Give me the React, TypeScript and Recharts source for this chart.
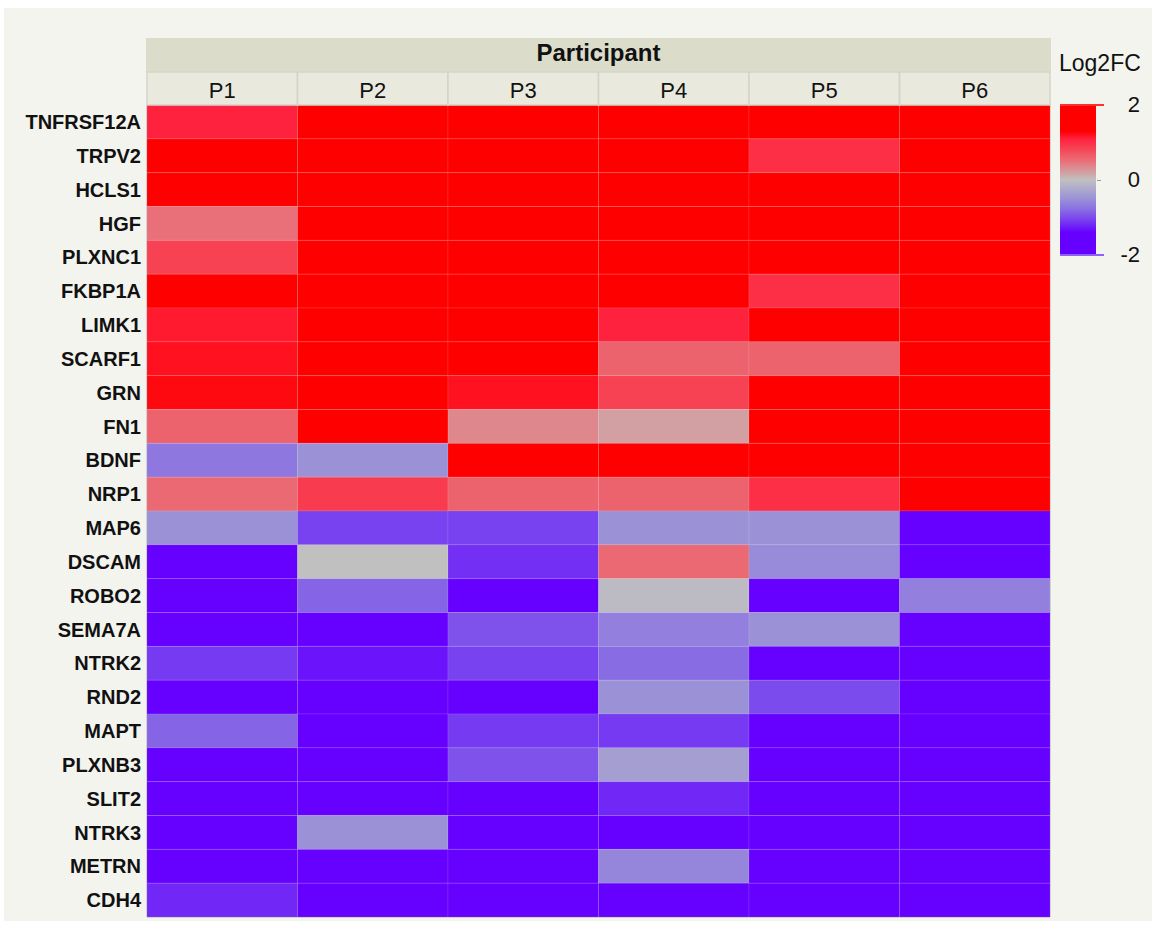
import { ScatterChart, Scatter, XAxis, YAxis, ReferenceLine, Label } from "recharts";

const participants = ["P1", "P2", "P3", "P4", "P5", "P6"];
const genes = [
  "TNFRSF12A", "TRPV2", "HCLS1", "HGF", "PLXNC1", "FKBP1A", "LIMK1", "SCARF1",
  "GRN", "FN1", "BDNF", "NRP1", "MAP6", "DSCAM", "ROBO2", "SEMA7A", "NTRK2",
  "RND2", "MAPT", "PLXNB3", "SLIT2", "NTRK3", "METRN", "CDH4",
];

// log2 fold change, one array per participant (rows follow `genes`)
const p1 = [1.1, 1.8, 1.8, 0.5, 0.85, 1.8, 1.15, 1.2, 1.25, 0.6, -0.7, 0.55, -0.5, -2, -2, -2, -1.1, -2, -0.85, -2, -2, -2, -2, -1.2];
const p2 = [2, 2, 2, 1.8, 1.8, 1.8, 1.8, 1.8, 1.8, 1.8, -0.5, 0.9, -1.05, 0, -0.85, -2, -1.3, -1.6, -2, -2, -2, -0.5, -2, -2];
const p3 = [2, 2, 2, 2, 2, 1.6, 1.3, 1.8, 1.2, 0.35, 1.8, 0.6, -1.05, -1.15, -2, -0.95, -1.05, -2, -1.1, -0.95, -2, -2, -2, -2];
const p4 = [2, 2, 2, 1.8, 1.8, 1.3, 1.1, 0.6, 0.85, 0.2, 1.8, 0.6, -0.5, 0.55, -0.05, -0.65, -0.8, -0.5, -1.1, -0.35, -1.2, -2, -0.6, -1.6];
const p5 = [2, 1.0, 2, 2, 1.6, 1.0, 1.35, 0.6, 1.3, 1.8, 1.8, 1.0, -0.5, -0.55, -2, -0.5, -2, -1.0, -2, -2, -2, -2, -2, -2];
const p6 = [2, 2, 2, 2, 2, 2, 1.8, 1.8, 1.8, 1.8, 1.8, 1.8, -2, -2, -0.65, -2, -2, -2, -2, -2, -2, -2, -2, -2];
const columns = [p1, p2, p3, p4, p5, p6];

const legendTicks = [2, 0, -2];

const cells = participants.flatMap((p, c) =>
  genes.map((g, r) => ({ x: c + 0.5, y: r + 0.5, participant: p, gene: g, v: columns[c][r] }))
);

const colorStops: [number, number[]][] = [
  [-2, [102, 0, 255]],
  [-1.4, [102, 0, 255]],
  [-1.1, [118, 58, 242]],
  [-0.8, [136, 108, 228]],
  [-0.5, [155, 145, 215]],
  [-0.25, [172, 168, 205]],
  [0, [192, 192, 192]],
  [0.25, [214, 152, 156]],
  [0.5, [233, 112, 120]],
  [0.8, [245, 72, 88]],
  [1.1, [255, 34, 62]],
  [1.3, [255, 0, 0]],
  [2, [255, 0, 0]],
];

function heat(v: number) {
  const t = Math.max(-2, Math.min(2, v));
  for (let i = 1; i < colorStops.length; i++) {
    const [b, cb] = colorStops[i];
    const [a, ca] = colorStops[i - 1];
    if (t <= b) {
      const k = (t - a) / (b - a || 1);
      const c = ca.map((x, j) => Math.round(x + (cb[j] - x) * k));
      return `rgb(${c[0]},${c[1]},${c[2]})`;
    }
  }
  return "rgb(255,0,0)";
}

const W = 1155;
const H = 925;
const LEFT = 147;
const TOP_MARGIN = 38;
const HEAD_H = 67;
const RIGHT = 105;
const BOTTOM = 8;
const COL_W = (W - LEFT - RIGHT) / participants.length;
const ROW_H = (H - TOP_MARGIN - HEAD_H - BOTTOM) / genes.length;
const FONT = '"Liberation Sans", Arial, Helvetica, sans-serif';

function Cell(props: any) {
  const { cx, cy, payload } = props;
  return (
    <rect
      x={cx - COL_W / 2}
      y={cy - ROW_H / 2}
      width={COL_W}
      height={ROW_H}
      fill={heat(payload.v)}
      stroke="rgba(255,255,255,0.1)"
      strokeWidth={1}
    />
  );
}

function ColumnHead(props: any) {
  const { x, y, payload } = props;
  const name = participants[Math.floor(payload.value)];
  return (
    <g>
      <rect x={x - COL_W / 2 - 1} y={y - HEAD_H} width={COL_W + 2} height={34} fill="#dcdcca" />
      <rect x={x - COL_W / 2} y={y - 33} width={COL_W} height={33} fill="#e9e9de" stroke="#d3d3ca" strokeWidth={1.5} />
      <text x={x} y={y - 15} textAnchor="middle" dominantBaseline="central" fontSize={22} fill="#111" fontFamily={FONT}>
        {name}
      </text>
    </g>
  );
}

export default function App() {
  const gradient = `linear-gradient(to bottom, ${colorStops
    .slice()
    .reverse()
    .map(([v, c]) => `rgb(${c[0]},${c[1]},${c[2]}) ${((2 - v) / 4) * 100}%`)
    .join(", ")})`;

  return (
    <div style={{ position: "relative", width: W, height: H, background: "#fff", fontFamily: FONT }}>
      <style>{"body{margin:0}"}</style>
      <div style={{ position: "absolute", left: 4, top: 8, width: 1148, height: 913, background: "#f4f4ef" }} />
      <div style={{ position: "absolute", left: 0, top: 0 }}>
        <ScatterChart width={W} height={H} margin={{ top: TOP_MARGIN, left: 0, right: RIGHT, bottom: BOTTOM }}>
          <XAxis
            type="number"
            dataKey="x"
            orientation="top"
            domain={[0, participants.length]}
            ticks={participants.map((_, i) => i + 0.5)}
            interval={0}
            height={HEAD_H}
            tickSize={0}
            tickMargin={0}
            axisLine={false}
            tickLine={false}
            tick={<ColumnHead />}
          >
            <Label
              value="Participant"
              position="insideTop"
              offset={6}
              style={{ fontSize: 24, fontWeight: 700, fill: "#111", fontFamily: FONT }}
            />
          </XAxis>
          <YAxis
            type="number"
            dataKey="y"
            reversed
            domain={[0, genes.length]}
            ticks={genes.map((_, i) => i + 0.5)}
            interval={0}
            width={LEFT}
            tickSize={0}
            tickMargin={6}
            axisLine={false}
            tickLine={false}
            tickFormatter={(v: number) => genes[Math.floor(v)]}
            tick={{ fontSize: 20, fontWeight: 700, fill: "#111", fontFamily: FONT }}
          />
          <Scatter data={cells} shape={<Cell />} isAnimationActive={false} />
          {participants.slice(1).map((_, i) => (
            <ReferenceLine key={i} x={i + 1} stroke="#d6d6d2" strokeWidth={2} />
          ))}
          <ReferenceLine x={0} stroke="#c4c4c0" strokeWidth={1.5} />
          <ReferenceLine x={participants.length} stroke="#c4c4c0" strokeWidth={1.5} />
          <ReferenceLine y={genes.length} stroke="#c4c4c0" strokeWidth={1.5} />
        </ScatterChart>
      </div>
      <div style={{ position: "absolute", left: 1059, top: 50, fontSize: 23, color: "#111" }}>Log2FC</div>
      <div style={{ position: "absolute", left: 1060, top: 105, width: 36, height: 150, background: gradient }} />
      <div style={{ position: "absolute", left: 1060, top: 104, width: 44, height: 2, background: "#ff3030" }} />
      <div style={{ position: "absolute", left: 1060, top: 254, width: 44, height: 2, background: "#8a60ff" }} />
      <div style={{ position: "absolute", left: 1097, top: 180, width: 4, height: 1, background: "#999" }} />
      {legendTicks.map((t) => (
        <div
          key={t}
          style={{
            position: "absolute",
            right: W - 1140,
            top: 105 + ((2 - t) / 4) * 150 - 13,
            fontSize: 22,
            lineHeight: "26px",
            color: "#111",
          }}
        >
          {t}
        </div>
      ))}
    </div>
  );
}
